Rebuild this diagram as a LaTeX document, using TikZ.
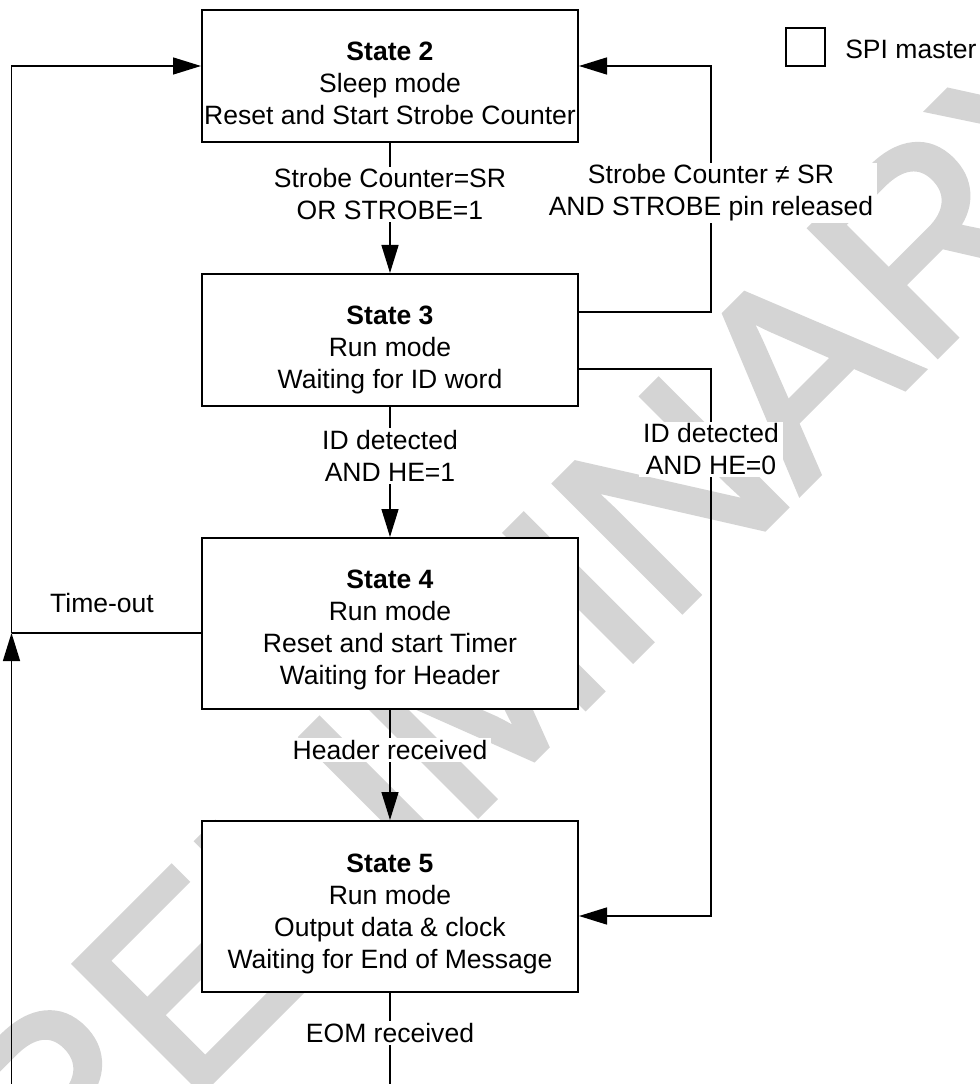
\documentclass[tikz,border=0pt]{standalone}
\usepackage{fontspec}
\setmainfont{Liberation Sans}
\usetikzlibrary{arrows.meta,calc}
\definecolor{wmgray}{RGB}{212,212,212}
\newcommand\diagfont{\fontsize{19.9pt}{24pt}\selectfont}
\font\wmf="Liberation Sans:embolden=2.5" at 195pt
\begin{document}
\begin{tikzpicture}[x=0.75pt,y=-0.75pt,
  statebox/.style={draw, line width=1.5pt, fill=white, minimum width=282pt, inner sep=0pt},
  shortbox/.style={statebox, minimum height=99pt},
  tallbox/.style={statebox, minimum height=128.25pt},
  txt/.style={align=center, font=\diagfont, inner sep=0pt},
  lbl/.style={fill=white, align=center, font=\diagfont, inner xsep=3pt, inner ysep=1.5pt},
  conn/.style={line width=1.1pt},
  arr/.style={-{Triangle[length=21pt,width=12.75pt]}}]
\useasboundingbox (0,0) rectangle (979,1084);
\fill[white] (0,0) rectangle (979,1084);

% watermark
\node[rotate=45, text=wmgray, font=\wmf, inner sep=0pt] (wm) at (490,676) {PRELIMINARY};

% coordinates for free ends and bends
\coordinate (tj) at (11.5,633);
\coordinate (bl) at (11.5,1084);
\coordinate (r2) at (711,66);
\coordinate (r4) at (711,916);
\coordinate (bend) at (390,1084);

% state boxes
\node[shortbox] (s2) at (390,76) {};
\node[shortbox] (s3) at (390,340) {};
\node[tallbox] (s4) at (390,623.5) {};
\node[tallbox] (s5) at (390,906.5) {};

\node[txt] (t2) at (390,83.5) {\textbf{State 2}\\Sleep mode\\Reset and Start Strobe Counter};
\node[txt] (t3) at (390,350) {\textbf{State 3}\\Run mode\\Waiting for ID word};
\node[txt] (t4) at (390,630) {\textbf{State 4}\\Run mode\\Reset and start Timer\\Waiting for Header};
\node[txt] (t5) at (390,914) {\textbf{State 5}\\Run mode\\Output data \& clock\\Waiting for End of Message};

% legend
\node[draw, line width=1.1pt, minimum width=29.25pt, minimum height=28.5pt, inner sep=0pt] (leg) at (805.5,47) {};
\node[anchor=west, font=\diagfont, inner sep=0pt] (legt) at (845,49.5) {SPI master};

% connectors
\draw[conn,arr] (s2.south) -- (s3.north);
\draw[conn,arr] (s3.south) -- (s4.north);
\draw[conn,arr] (s4.south) -- (s5.north);
\draw[conn] (s5.south) -- (bend);
\draw[conn,arr] ($(s3.east)+(0,-28)$) -| (r2) -- ($(s2.east)+(0,-10)$);
\draw[conn,arr] ($(s3.east)+(0,29)$) -| (r4) -- ($(s5.east)+(0,9.5)$);
\draw[conn] ($(s4.west)+(0,9.5)$) -- (tj);
\draw[conn,arr] (tj) |- ($(s2.west)+(0,-10)$);
\draw[conn,arr] (bl) -- (tj);

% labels
\node[lbl] (l23) at (390,194.5) {Strobe Counter=SR\\OR STROBE=1};
\node[lbl] (l32) at (711,193) {Strobe Counter ≠ SR\\AND STROBE pin released};
\node[lbl] (l34) at (390,456) {ID detected\\AND HE=1};
\node[lbl] (l35) at (711,449.5) {ID detected\\AND HE=0};
\node[lbl] (l45) at (390,750) {Header received};
\node[lbl] (l5x) at (390,1033) {EOM received};
\node[txt] (lto) at (102,603) {Time-out};
\end{tikzpicture}
\end{document}
